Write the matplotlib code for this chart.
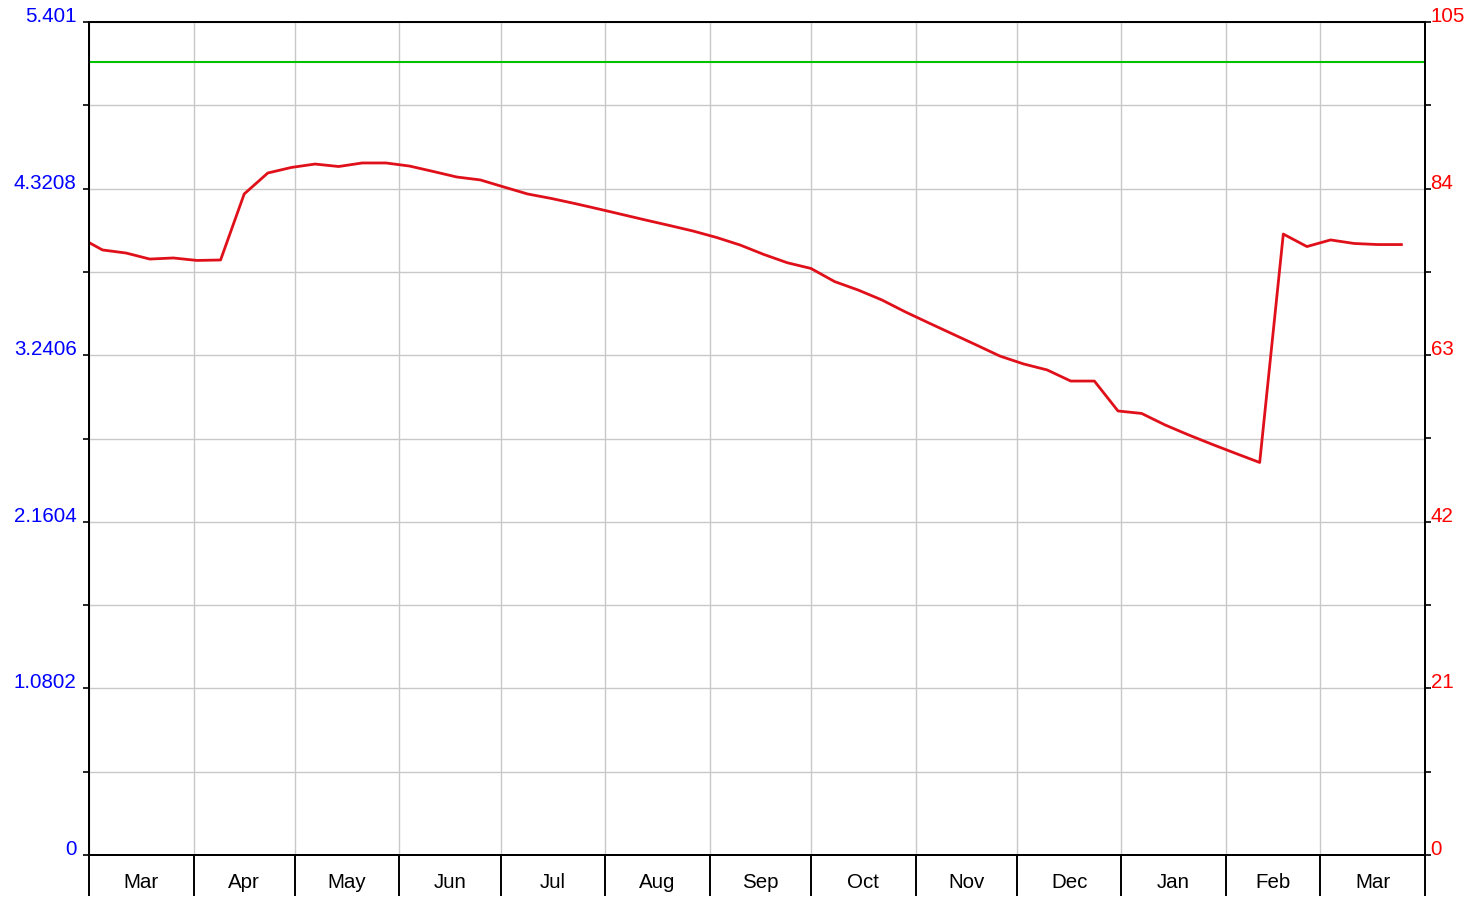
import matplotlib
matplotlib.use("Agg")
import matplotlib.pyplot as plt
import matplotlib.dates as mdates
from matplotlib.ticker import FixedLocator, NullFormatter
import pandas as pd

plt.rcParams["font.family"] = ["Liberation Sans", "DejaVu Sans"]

# weekly observations, left scale
dates = pd.date_range("2022-02-26", periods=57, freq="7D")

values = [
    4.007, 3.923, 3.903, 3.864, 3.871, 3.855, 3.858, 4.286, 4.422, 4.458,
    4.480, 4.464, 4.487, 4.487, 4.467, 4.432, 4.396, 4.377, 4.331, 4.286,
    4.257, 4.224, 4.189, 4.153, 4.117, 4.082, 4.046, 4.004, 3.955, 3.894,
    3.840, 3.803, 3.718, 3.663, 3.599, 3.521, 3.449, 3.378, 3.307, 3.235,
    3.184, 3.145, 3.073, 3.073, 2.879, 2.863, 2.788, 2.723, 2.662, 2.603,
    2.545, 4.026, 3.945, 3.988, 3.965, 3.958, 3.958,
]

left_max = 5.401
left_labels = [0, 1.0802, 2.1604, 3.2406, 4.3208, 5.401]
left_label_text = ["0", "1.0802", "2.1604", "3.2406", "4.3208", "5.401"]

right_max = 105
right_labels = [0, 21, 42, 63, 84, 105]
reference_level = 100

x_start = pd.Timestamp("2022-03-01")
x_end = pd.Timestamp("2023-04-01")

BLUE = "#0000ff"
RED = "#ff0000"
LINE_RED = "#e0101a"
GREEN = "#00c000"
GRID = "#c8c8c8"
FS = 14.8

fig = plt.figure(figsize=(14.7, 8.98), dpi=100)
ax = fig.add_axes([89 / 1470, 1 - 855 / 898, (1425 - 89) / 1470, (855 - 22) / 898])
ax2 = ax.twinx()

ax.set_xlim(x_start, x_end)
ax.set_ylim(0, left_max)
ax2.set_ylim(0, right_max)

# horizontal grid every tenth, vertical grid at month boundaries
ax.yaxis.set_major_locator(FixedLocator(left_labels))
ax.yaxis.set_minor_locator(FixedLocator([left_max * i / 10 for i in range(1, 10, 2)]))
ax.set_yticklabels(left_label_text)
ax.yaxis.set_minor_formatter(NullFormatter())
ax.grid(True, which="both", axis="y", color=GRID, lw=1.0)

# month labels sit in the middle of each month
month_starts = pd.date_range(x_start, x_end, freq="MS")
month_mids = month_starts[:-1] + (month_starts[1:] - month_starts[:-1]) / 2
ax.xaxis.set_major_locator(mdates.MonthLocator())
ax.xaxis.set_major_formatter(NullFormatter())
ax.xaxis.set_minor_locator(FixedLocator(mdates.date2num(month_mids)))
ax.xaxis.set_minor_formatter(mdates.DateFormatter("%b"))
ax.grid(True, which="major", axis="x", color=GRID, lw=1.0)
ax.set_axisbelow(True)

ax.tick_params(axis="x", which="major", length=29.5, width=1.4, color="black")
ax.tick_params(axis="x", which="minor", length=0, pad=13, labelsize=FS, labelcolor="black")
ax.tick_params(axis="y", which="both", length=4.5, width=1.2, color="black",
               pad=4.5, labelsize=FS, labelcolor=BLUE)

ax2.yaxis.set_major_locator(FixedLocator(right_labels))
ax2.yaxis.set_minor_locator(FixedLocator([right_max * i / 10 for i in range(1, 10, 2)]))
ax2.yaxis.set_minor_formatter(NullFormatter())
ax2.tick_params(axis="y", which="both", length=4, width=1.2, color="black",
                pad=0, labelsize=FS, labelcolor=RED)

for lab in ax.get_yticklabels() + ax2.get_yticklabels():
    lab.set_verticalalignment("baseline")

for a in (ax, ax2):
    for s in a.spines.values():
        s.set_color("black")
        s.set_linewidth(1.4)

ax2.axhline(reference_level, color=GREEN, lw=1.5)
ax.plot(dates, values, color=LINE_RED, lw=2.0, zorder=3)

fig.savefig("out.png", dpi=100)
